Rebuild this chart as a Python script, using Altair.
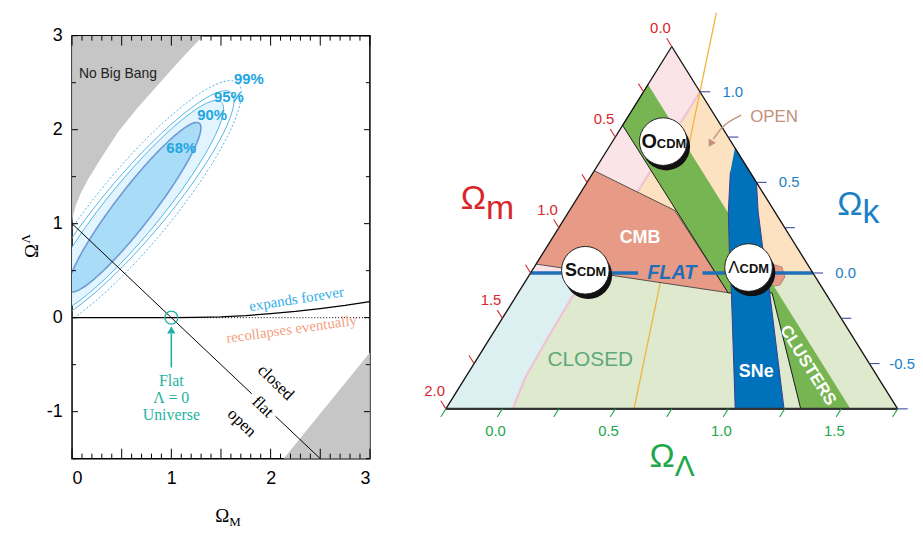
import math
import altair as alt
import pandas as pd

SANS = "Liberation Sans"
SERIF = "Liberation Serif"

# ============================ LEFT PANEL DATA ============================
x_tick_labels = [0, 1, 2, 3]
y_tick_labels = [-1, 0, 1, 2, 3]
x_ticks_major = [0.0, 0.5, 1.0, 1.5, 2.0, 2.5, 3.0]
x_ticks_minor = [i / 10 for i in range(31) if i % 5]
y_ticks_int = [-1, 0, 1, 2, 3]
y_ticks_half = [-1.5, -0.5, 0.5, 1.5, 2.5]

# "No Big Bang" boundary (upper-left grey region)
nbb_om = [0.0, 0.01, 0.04, 0.09, 0.16, 0.30, 0.46, 0.65, 0.86, 1.08, 1.32]
nbb_ol = [1.00, 1.08, 1.20, 1.33, 1.47, 1.71, 1.97, 2.22, 2.47, 2.73, 3.00]
# lower-right grey wedge
low_om = [2.13, 3.0]
low_ol = [-1.5, -0.37]
# expands / recollapses boundary
recoll_om = [0.0, 0.5, 1.0, 1.25, 1.5, 1.75, 2.0, 2.25, 2.5, 2.75, 3.0]
recoll_ol = [0.0, 0.0, 0.0, 0.002, 0.009, 0.022, 0.042, 0.066, 0.097, 0.13, 0.17]
zero_om = [1.0, 3.0]
zero_ol = [0.0, 0.0]
# flat universe line (broken around the word "flat")
flat_seg = ["a", "a", "b", "b"]
flat_om = [0.0, 1.81, 2.05, 2.5]
flat_ol = [1.0, -0.81, -1.05, -1.5]
flat_universe = [1.0, 0.0]
arrow_om = [1.0, 1.0]
arrow_ol = [-0.53, -0.17]
arrow_tip = [1.0, -0.13]

# confidence contours: centre, semi-axes, tilt (deg)
contour_levels = ["68%", "90%", "95%", "99%"]
contour_cx = [0.63, 0.63, 0.63, 0.63]
contour_cy = [1.175, 1.175, 1.175, 1.175]
contour_a = [1.106, 1.42, 1.56, 1.68]
contour_b = [0.19, 0.277, 0.32, 0.383]
contour_tilt = [54.0, 52.3, 51.6, 52.1]
contour_lab_x = [1.10, 1.41, 1.58, 1.78]
contour_lab_y = [1.80, 2.16, 2.35, 2.54]

# ============================ RIGHT PANEL DATA (Omega_m, Omega_Lambda) ============================
tri_m = [0.0, 2.0, 0.0, 0.0]
tri_l = [-0.25, -0.25, 1.75, -0.25]

pink_m = [0.0, 0.0, 1.0, 1.25]
pink_l = [-0.25, 0.0, 0.0, -0.25]
peach_m = [0.0, 0.0, 1.0]
peach_l = [0.0, 1.0, 0.0]
lblue_m = [1.25, 1.0, 1.1, 1.35, 1.56, 1.70, 2.0]
lblue_l = [-0.25, 0.0, 0.0, 0.005, 0.015, 0.045, -0.25]
lgreen_m = [1.0, 0.0, 0.0, 1.70, 1.56, 1.35, 1.1]
lgreen_l = [0.0, 1.0, 1.75, 0.045, 0.015, 0.005, 0.0]
pinkline_m = [0.0, 1.0, 1.1, 1.35, 1.56, 1.70]
pinkline_l = [0.0, 0.0, 0.0, 0.005, 0.015, 0.045]
yellow_m = [-0.290, 1.167]
yellow_l = [-0.145, 0.583]
cmb_m = [0.686, 0.439, 0.429, 1.201]
cmb_l = [-0.25, 0.216, 0.680, -0.25]
cmblobe_m = [0.171, 0.121, 0.135, 0.179, 0.228]
cmblobe_l = [0.774, 0.846, 0.887, 0.887, 0.849]
green_m = [0.21, 0.435, 0.43, 0.236, 0.429, 0.209]
green_l = [-0.25, -0.25, 0.68, 0.874, 1.321, 1.541]
sne_m = [0.0, 0.0, 0.073, 0.160, 0.235, 0.503, 0.719, 0.416, 0.310, 0.205, 0.086]
sne_l = [0.31, 0.50, 0.588, 0.719, 0.847, 1.247, 1.031, 0.694, 0.570, 0.456, 0.355]
flatline_seg = ["a", "a", "b", "b"]
flatline_m = [1.25, 0.774, 0.489, 0.0]
flatline_l = [-0.25, 0.226, 0.511, 1.0]
open_arrow_m = [-0.118, -0.015, 0.071]
open_arrow_l = [0.247, 0.193, 0.190]
open_arrow_tip = [0.097, 0.190]

models = ["S", "O", "Λ"]
model_m = [1.0, 0.30, 0.27]
model_l = [-0.015, -0.025, 0.70]

om_ticks = [0.0, 0.25, 0.5, 0.75, 1.0, 1.25, 1.5, 1.75, 2.0]
om_labels = [0.0, 0.5, 1.0, 1.5, 2.0]
ol_ticks = [-0.25, 0.0, 0.25, 0.5, 0.75, 1.0, 1.25, 1.5, 1.75]
ol_labels = [0.0, 0.5, 1.0, 1.5]
ok_ticks = [1.0, 0.75, 0.5, 0.25, 0.0, -0.25, -0.5, -0.75]
ok_labels = [1.0, 0.5, 0.0, -0.5]

# ============================ LEFT PANEL ============================
W1, H1 = 300, 426
xs = alt.Scale(domain=[0, 3], nice=False, zero=False)
ys = alt.Scale(domain=[-1.5, 3], nice=False, zero=False)

ax_x = alt.Axis(values=x_tick_labels, labelFontSize=18, labelFont=SANS, labelColor="black",
                ticks=False, domain=False, grid=False, labelPadding=11, title=None,
                labelExpr="'' + datum.value")
ax_y = alt.Axis(values=y_tick_labels, labelFontSize=18, labelFont=SANS, labelColor="black",
                ticks=False, domain=False, grid=False, labelPadding=10, title=None,
                labelExpr="'' + datum.value")


def LX(f="x"):
    return alt.X(f + ":Q", scale=xs, axis=ax_x)


def LY(f="y"):
    return alt.Y(f + ":Q", scale=ys, axis=ax_y)


L = []
L.append(alt.Chart(pd.DataFrame({"x": nbb_om, "y": nbb_ol})).mark_area(color="#c6c6c6", clip=True)
         .encode(x=LX(), y=LY(), y2=alt.datum(3)))
L.append(alt.Chart(pd.DataFrame({"x": low_om, "y": low_ol})).mark_area(color="#c6c6c6", clip=True)
         .encode(x=LX(), y=LY(), y2=alt.datum(-1.5)))


def ellipse_df(i, n=140):
    th = math.radians(contour_tilt[i])
    rows = []
    for j in range(n + 1):
        t = 2 * math.pi * j / n
        u, v = contour_a[i] * math.cos(t), contour_b[i] * math.sin(t)
        rows.append({"x": contour_cx[i] + u * math.cos(th) - v * math.sin(th),
                     "y": contour_cy[i] + u * math.sin(th) + v * math.cos(th), "o": j})
    return pd.DataFrame(rows)


L.append(alt.Chart(ellipse_df(3)).mark_line(stroke="#4fb4ea", strokeWidth=1, strokeDash=[2, 2], clip=True)
         .encode(x=LX(), y=LY(), order="o:Q"))
L.append(alt.Chart(ellipse_df(2)).mark_line(stroke="#4fb4ea", strokeWidth=1, clip=True)
         .encode(x=LX(), y=LY(), order="o:Q"))
L.append(alt.Chart(ellipse_df(1)).mark_line(fill="#e2f4fd", stroke="#4fb4ea", strokeWidth=1, clip=True)
         .encode(x=LX(), y=LY(), order="o:Q"))
L.append(alt.Chart(ellipse_df(0)).mark_line(fill="#a9dcf6", stroke="#6f9ad6", strokeWidth=1.6, clip=True)
         .encode(x=LX(), y=LY(), order="o:Q"))

L.append(alt.Chart(pd.DataFrame({"x": zero_om, "y": zero_ol})).mark_line(color="black", strokeWidth=1, strokeDash=[1, 2])
         .encode(x=LX(), y=LY()))
L.append(alt.Chart(pd.DataFrame({"x": recoll_om, "y": recoll_ol})).mark_line(color="black", strokeWidth=1.3)
         .encode(x=LX(), y=LY()))
L.append(alt.Chart(pd.DataFrame({"x": flat_om, "y": flat_ol, "s": flat_seg})).mark_line(color="black", strokeWidth=1)
         .encode(x=LX(), y=LY(), detail="s:N"))

TEAL = "#1fb2a2"
L.append(alt.Chart(pd.DataFrame({"x": [flat_universe[0]], "y": [flat_universe[1]]}))
         .mark_point(shape="circle", size=170, filled=False, stroke=TEAL, strokeWidth=1.3, opacity=1)
         .encode(x=LX(), y=LY()))
L.append(alt.Chart(pd.DataFrame({"x": arrow_om, "y": arrow_ol})).mark_line(color=TEAL, strokeWidth=1.6)
         .encode(x=LX(), y=LY()))
L.append(alt.Chart(pd.DataFrame({"x": [arrow_tip[0]], "y": [arrow_tip[1]]}))
         .mark_point(shape="triangle-up", size=70, filled=True, color=TEAL, opacity=1)
         .encode(x=LX(), y=LY()))


def ltext(texts, xsv, ysv, **kw):
    df = pd.DataFrame({"x": xsv, "y": ysv, "t": texts})
    return alt.Chart(df).mark_text(**kw).encode(x=LX(), y=LY(), text="t:N")


L.append(ltext(["No Big Bang"], [0.07], [2.55], font=SANS, fontSize=14, color="#222", align="left", baseline="alphabetic"))
L.append(ltext(contour_levels, contour_lab_x, contour_lab_y, font=SANS, fontSize=15, fontWeight="bold", color="#22a6e2"))
L.append(ltext(["expands forever"], [2.26], [0.20], font=SERIF, fontSize=15, color="#34aee8", angle=351))
L.append(ltext(["recollapses eventually"], [2.21], [-0.12], font=SERIF, fontSize=15, color="#f3a183", angle=352))
L.append(ltext(["closed", "flat", "open"], [2.05, 1.92, 1.71], [-0.69, -0.95, -1.12], font=SERIF, fontSize=17, color="black", angle=44))
L.append(ltext(["Flat", "Λ = 0", "Universe"], [1.0, 1.0, 1.0], [-0.67, -0.86, -1.04], font=SERIF, fontSize=16, color=TEAL))
# axis titles
L.append(ltext(["Ω"], [1.583], [-1.5], font=SERIF, fontSize=19, color="black", align="right", baseline="alphabetic", dy=64))
L.append(ltext(["M"], [1.583], [-1.5], font=SERIF, fontSize=13, color="black", align="left", baseline="alphabetic", dy=68))
# rotated title: with angle 270 the dy offset moves the text horizontally on screen
L.append(ltext(["Ω"], [0.0], [0.71], font=SERIF, fontSize=19, color="black", angle=270, dy=-40))
L.append(ltext(["Λ"], [0.0], [0.84], font=SERIF, fontSize=13, color="black", angle=270, dy=-46))

# inward ticks
def xticks(vals, y_from, y_to):
    return alt.Chart(pd.DataFrame({"x": vals})).mark_rule(color="black", strokeWidth=1).encode(
        x=LX(), y=alt.value(y_from), y2=alt.value(y_to))


def yticks(vals, x_from, x_to):
    return alt.Chart(pd.DataFrame({"y": vals})).mark_rule(color="black", strokeWidth=1).encode(
        y=LY(), x=alt.value(x_from), x2=alt.value(x_to))


L += [xticks(x_ticks_major, H1, H1 - 10), xticks(x_ticks_minor, H1, H1 - 5),
      xticks(x_ticks_major, 0, 10), xticks(x_ticks_minor, 0, 5),
      yticks(y_ticks_int, 0, 6), yticks(y_ticks_half, 0, 4),
      yticks(y_ticks_int, W1, W1 - 6), yticks(y_ticks_half, W1, W1 - 4)]

left = alt.layer(*L).properties(width=W1, height=H1,
                                view=alt.ViewBackground(stroke="black", strokeWidth=1.5))

# ============================ RIGHT PANEL ============================
W2, H2 = 515, 426
xs2 = alt.Scale(domain=[-2.6236, 1.9038], nice=False, zero=False)
ys2 = alt.Scale(domain=[-1.0247, 1.3096], nice=False, zero=False)


def tdf(ms, ls, **extra):
    d = {"tx": [l - m for m, l in zip(ms, ls)], "k": [1 - m - l for m, l in zip(ms, ls)],
         "o": list(range(len(ms)))}
    d.update(extra)
    return pd.DataFrame(d)


def RX():
    return alt.X("tx:Q", scale=xs2, axis=None)


def RY():
    return alt.Y("k:Q", scale=ys2, axis=None)


def poly(ms, ls, fill, stroke=None, sw=0.6):
    return alt.Chart(tdf(ms, ls)).mark_line(fill=fill, stroke=stroke or fill, strokeWidth=sw).encode(
        x=RX(), y=RY(), order="o:Q")


def pline(ms, ls, color, sw, **kw):
    return alt.Chart(tdf(ms, ls)).mark_line(color=color, strokeWidth=sw, **kw).encode(x=RX(), y=RY(), order="o:Q")


R = []
R.append(poly(pink_m, pink_l, "#fbe4e8"))
R.append(poly(peach_m, peach_l, "#fde2c2"))
R.append(poly(lblue_m, lblue_l, "#dcf0f2"))
R.append(poly(lgreen_m, lgreen_l, "#dee9cd"))
R.append(pline(pinkline_m, pinkline_l, "#f0c3d4", 2.2))
R.append(pline(yellow_m, yellow_l, "#efb53c", 1.3))
R.append(poly(cmb_m, cmb_l, "#e79a86", stroke="#333333", sw=0.8))
R.append(poly(cmblobe_m, cmblobe_l, "#e79a86", stroke="#9a5a4a", sw=0.6))
R.append(poly(green_m, green_l, "#77b452", stroke="#1a1a1a", sw=1.0))
R.append(poly(sne_m, sne_l, "#0071bb", stroke="#3a3e8e", sw=1.0))
R.append(alt.Chart(tdf(flatline_m, flatline_l, s=flatline_seg)).mark_line(color="#1f6fb8", strokeWidth=3.5)
         .encode(x=RX(), y=RY(), detail="s:N"))
# triangle outline
R.append(pline(tri_m[:2], tri_l[:2], "#111111", 1.3))
R.append(pline([tri_m[0], tri_m[2]], [tri_l[0], tri_l[2]], "#111111", 1.3))
R.append(pline(tri_m[1:3], tri_l[1:3], "#333333", 2.2))

# OPEN arrow
OPENC = "#c2907e"
R.append(alt.Chart(tdf(open_arrow_m, open_arrow_l)).mark_line(color=OPENC, strokeWidth=1.4, interpolate="basis")
         .encode(x=RX(), y=RY(), order="o:Q"))
R.append(alt.Chart(tdf([open_arrow_tip[0]], [open_arrow_tip[1]])).mark_point(
    shape="triangle-down", angle=30, size=70, filled=True, color=OPENC, opacity=1).encode(x=RX(), y=RY()))

# model discs
R.append(alt.Chart(tdf(model_m, model_l)).mark_point(shape="circle", size=2300, filled=True, color="#111111",
                                                     opacity=1, xOffset=3, yOffset=5).encode(x=RX(), y=RY()))
R.append(alt.Chart(tdf(model_m, model_l)).mark_point(shape="circle", size=2300, filled=True, fill="white",
                                                     stroke="#222222", strokeWidth=1, opacity=1).encode(x=RX(), y=RY()))
big_sizes = {"S": (18, "bold", -8.5), "O": (20, "bold", -6.5), "Λ": (17, "normal", -9)}
for name, mm, ll in zip(models, model_m, model_l):
    fs, fw, jx = big_sizes[name]
    R.append(alt.Chart(tdf([mm], [ll], t=[name])).mark_text(font=SANS, fontSize=fs, fontWeight=fw, color="#111111",
                                                           align="right", baseline="alphabetic", dx=jx, dy=6)
             .encode(x=RX(), y=RY(), text="t:N"))
    R.append(alt.Chart(tdf([mm], [ll], t=["CDM"])).mark_text(font=SANS, fontSize=13, fontWeight="bold", color="#111111",
                                                            align="left", baseline="alphabetic", dx=jx, dy=6)
             .encode(x=RX(), y=RY(), text="t:N"))


def rtext(texts, ms, ls, **kw):
    return alt.Chart(tdf(ms, ls, t=texts)).mark_text(**kw).encode(x=RX(), y=RY(), text="t:N")


R.append(rtext(["CMB"], [0.670], [0.139], font=SANS, fontSize=18, fontWeight="bold", color="white"))
R.append(rtext(["CLOSED"], [1.227], [0.256], font=SANS, fontSize=21, color="#5ea97a"))
R.append(rtext(["SNe"], [0.525], [1.023], font=SANS, fontSize=18, fontWeight="bold", color="white"))
R.append(rtext(["CLUSTERS"], [0.278], [1.232], font=SANS, fontSize=17, fontWeight="bold", color="white", angle=58))
R.append(rtext(["OPEN"], [-0.258], [0.398], font=SANS, fontSize=17, color=OPENC))
R.append(rtext(["FLAT"], [0.625], [0.375], font=SANS, fontSize=20, fontWeight="bold", fontStyle="italic", color="#1f6fb8"))

# ternary axes: ticks
RED, GREEN, BLUE, NAVY = "#d8262d", "#22a84a", "#1b7fc6", "#3f4aa0"


def tick_layer(m0, l0, m1, l1, color):
    df = pd.DataFrame({"x1": [l - m for m, l in zip(m0, l0)], "y1": [1 - m - l for m, l in zip(m0, l0)],
                       "x2": [l - m for m, l in zip(m1, l1)], "y2": [1 - m - l for m, l in zip(m1, l1)]})
    return alt.Chart(df).mark_rule(color=color, strokeWidth=1.1).encode(
        x=alt.X("x1:Q", scale=xs2, axis=None), x2="x2:Q", y=alt.Y("y1:Q", scale=ys2, axis=None), y2="y2:Q")


R.append(tick_layer(om_ticks, [-0.25] * len(om_ticks), om_ticks, [-0.295] * len(om_ticks), RED))
R.append(tick_layer([1.75 - v for v in ol_ticks], ol_ticks, [1.795 - v for v in ol_ticks], ol_ticks, GREEN))
R.append(tick_layer([0.0] * len(ok_ticks), [1 - v for v in ok_ticks], [-0.045] * len(ok_ticks),
                    [1.045 - v for v in ok_ticks], NAVY))
R.append(rtext([f"{v:.1f}" for v in om_labels], om_labels, [-0.35] * len(om_labels), font=SANS, fontSize=15, color=RED))
R.append(rtext([f"{v:.1f}" for v in ol_labels], [1.84 - v for v in ol_labels], [v + 0.03 for v in ol_labels],
               font=SANS, fontSize=15, color=GREEN))
R.append(rtext([f"{v:.1f}" for v in ok_labels], [-0.145] * len(ok_labels), [1.145 - v for v in ok_labels],
               font=SANS, fontSize=15, color=BLUE))
# ternary axis titles
R.append(rtext(["Ω"], [1.2716], [-0.6223], font=SANS, fontSize=34, color=RED, align="right", baseline="alphabetic"))
R.append(rtext(["m"], [1.2716], [-0.6223], font=SANS, fontSize=34, color=RED, align="left", baseline="alphabetic", dy=10))
R.append(rtext(["Ω"], [-0.3779], [1.06], font=SANS, fontSize=34, color=BLUE, align="right", baseline="alphabetic"))
R.append(rtext(["k"], [-0.3779], [1.06], font=SANS, fontSize=34, color=BLUE, align="left", baseline="alphabetic", dy=8))
R.append(rtext(["Ω"], [1.146], [0.9224], font=SANS, fontSize=34, color=GREEN, align="right", baseline="alphabetic"))
R.append(rtext(["Λ"], [1.146], [0.9224], font=SANS, fontSize=30, color=GREEN, align="left", baseline="alphabetic", dy=10))

right = alt.layer(*R).properties(width=W2, height=H2)

chart = alt.hconcat(left, right, spacing=30).properties(
    padding={"left": 11.5, "top": 0, "right": 0, "bottom": 0}).configure_view(strokeWidth=0)

chart.save("out.html", embed_options={"renderer": "svg", "actions": False})
